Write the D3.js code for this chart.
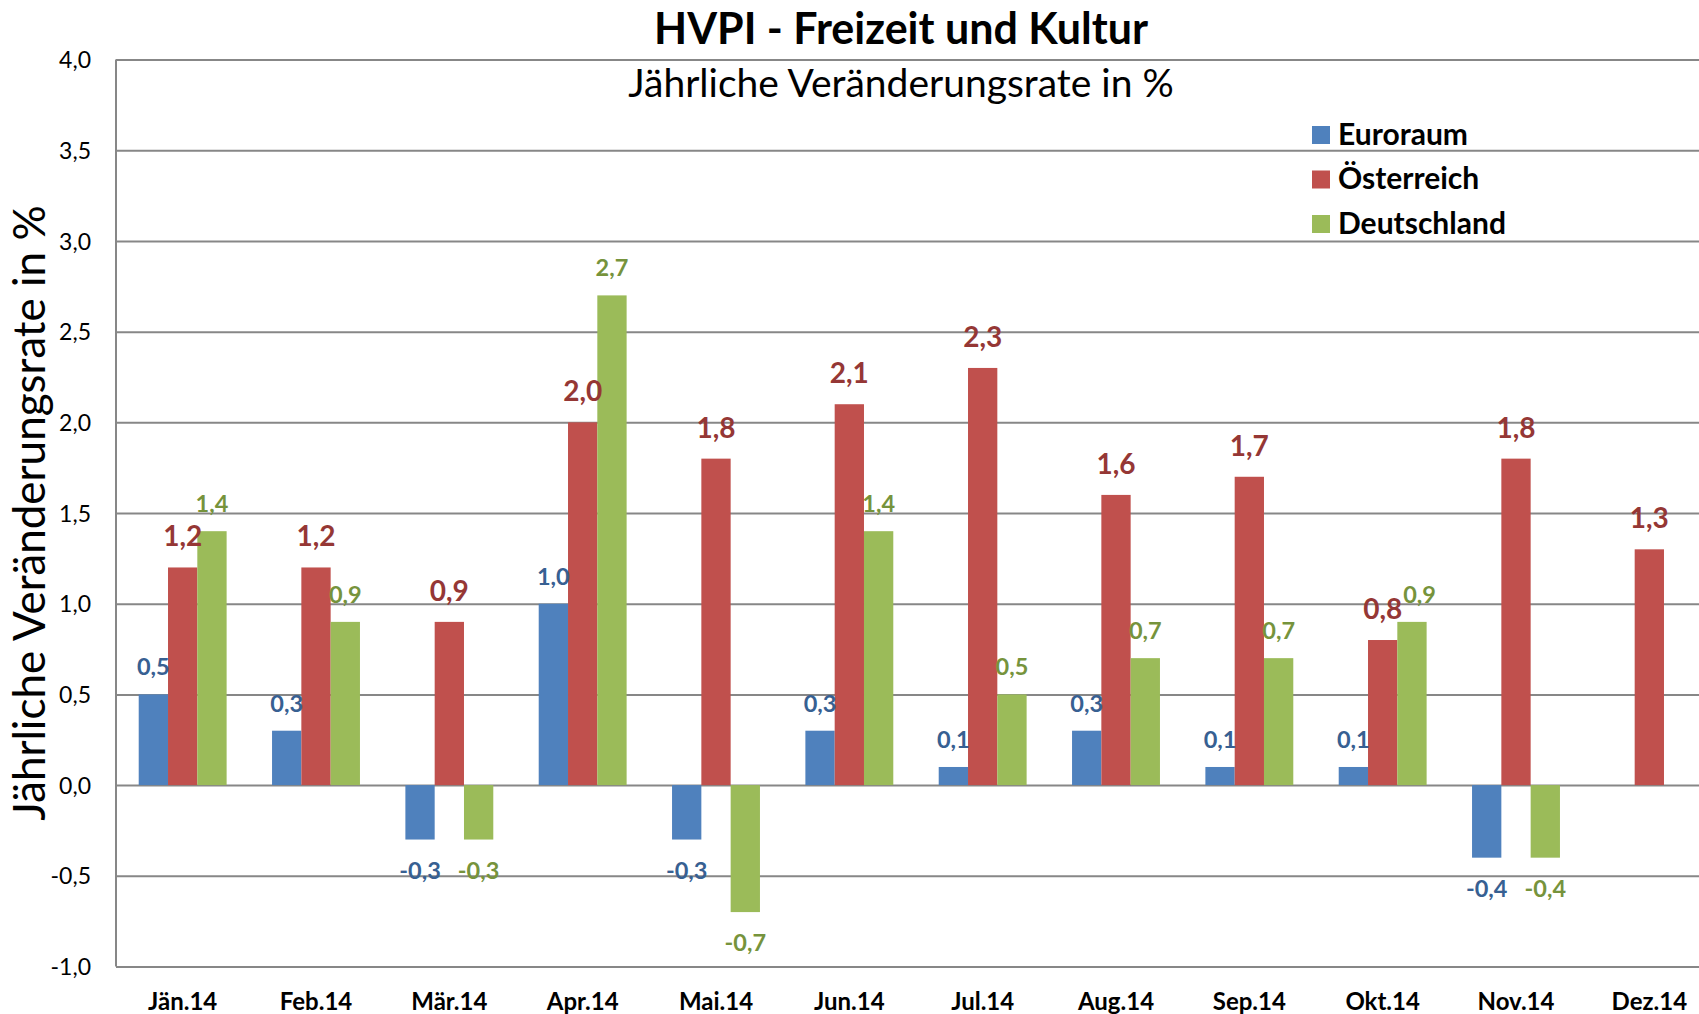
<!DOCTYPE html>
<html>
<head>
<meta charset="utf-8">
<script src="https://cdn.jsdelivr.net/npm/d3@7"></script>
<style>
body { margin: 0; background: #fff; }
text { font-family: Lato, "Open Sans", sans-serif; }
</style>
</head>
<body>
<svg></svg>
<script>
var months = ["Jän.14", "Feb.14", "Mär.14", "Apr.14", "Mai.14", "Jun.14", "Jul.14", "Aug.14", "Sep.14", "Okt.14", "Nov.14", "Dez.14"];
var seriesNames = ["Euroraum", "Österreich", "Deutschland"];
var euroraum = [0.5, 0.3, -0.3, 1.0, -0.3, 0.3, 0.1, 0.3, 0.1, 0.1, -0.4, null];
var oesterreich = [1.2, 1.2, 0.9, 2.0, 1.8, 2.1, 2.3, 1.6, 1.7, 0.8, 1.8, 1.3];
var deutschland = [1.4, 0.9, -0.3, 2.7, -0.7, 1.4, 0.5, 0.7, 0.7, 0.9, -0.4, null];
var yTicks = [-1.0, -0.5, 0.0, 0.5, 1.0, 1.5, 2.0, 2.5, 3.0, 3.5, 4.0];

var screen = {width: 1699, height: 1014};
var barColors = ["#4F81BD", "#C0504D", "#9BBB59"];
var labelColors = ["#376092", "#953735", "#76933C"];
var labelSizes = [23.5, 28, 23.5];

var setup = function()
{
    var svg = d3.select("svg")
    .attr("width", screen.width)
    .attr("height", screen.height);

    // chart is cut off on the right, so the band range runs past the page
    var x0 = d3.scaleBand().domain(months).range([116, 1716]);
    var x1 = d3.scaleBand().domain(seriesNames).range([0, x0.bandwidth()]).paddingOuter(0.775);
    var y = d3.scaleLinear().domain([-1, 4]).range([966.5, 59.6]);

    var yAxis = d3.axisLeft(y).tickValues(yTicks)
    .tickSize(-(1716 - 116))
    .tickFormat(function(d){ return d3.format(".1f")(d).replace(".", ",").replace("−", "-"); });

    var axis = svg.append("g")
    .attr("id", "yAxis")
    .attr("transform", "translate(116,0)")
    .call(yAxis);
    axis.select(".domain").remove();
    axis.selectAll("line").attr("stroke", "#878787").attr("stroke-width", 2);
    axis.selectAll("text")
    .attr("x", -25)
    .attr("dy", "0.35em")
    .style("font-size", "23px")
    .attr("fill", "#000");

    svg.append("line")
    .attr("x1", 116).attr("x2", 116)
    .attr("y1", y(4)).attr("y2", y(-1))
    .attr("stroke", "#878787").attr("stroke-width", 2);

    svg.append("g").attr("id", "xLabels")
    .selectAll("text")
    .data(months)
    .enter()
    .append("text")
    .attr("x", function(d){ return x0(d) + x0.bandwidth() / 2; })
    .attr("y", 1010)
    .attr("text-anchor", "middle")
    .style("font-size", "24px")
    .style("font-weight", "bold")
    .text(function(d){ return d; });

    drawBars(svg, x0, x1, y);
    drawTexts(svg);
}

var drawBars = function(svg, x0, x1, y)
{
    var all = [euroraum, oesterreich, deutschland];
    var rows = [];
    all.forEach(function(vals, s){
        vals.forEach(function(v, i){
            if (v !== null) rows.push({month: months[i], name: seriesNames[s], s: s, v: v});
        });
    });

    svg.append("g").attr("id", "bars")
    .selectAll("rect")
    .data(rows)
    .enter()
    .append("rect")
    .attr("x", function(d){ return x0(d.month) + x1(d.name); })
    .attr("y", function(d){ return y(Math.max(0, d.v)); })
    .attr("width", x1.bandwidth())
    .attr("height", function(d){ return Math.abs(y(d.v) - y(0)); })
    .attr("fill", function(d){ return barColors[d.s]; });

    var labels = svg.append("g").attr("id", "barLabels")
    .selectAll("text")
    .data(rows)
    .enter()
    .append("text")
    .attr("x", function(d){ return x0(d.month) + x1(d.name) + x1.bandwidth() / 2; })
    .attr("y", function(d){
        if (d.v < 0) return y(d.v) + 39;
        return y(d.v) - (d.s == 1 ? 21 : 19);
    })
    .attr("text-anchor", "middle")
    .attr("fill", function(d){ return labelColors[d.s]; })
    .style("font-size", function(d){ return labelSizes[d.s] + "px"; })
    .style("font-weight", "bold")
    .text(function(d){ return d3.format(".1f")(d.v).replace(".", ",").replace("−", "-"); });

    // push a label right if it runs into the one before it in the same month
    var nodes = labels.nodes();
    nodes.forEach(function(node){
        var d = d3.select(node).datum();
        var b = node.getBBox();
        nodes.forEach(function(other){
            var o = d3.select(other).datum();
            if (o.month != d.month || o.s != d.s - 1) return;
            var ob = other.getBBox();
            var vOverlap = b.y < ob.y + ob.height - 6 && ob.y < b.y + b.height - 6;
            if (vOverlap && b.x < ob.x + ob.width)
                d3.select(node).attr("x", +d3.select(node).attr("x") + (ob.x + ob.width - b.x) + 1);
        });
    });
}

var drawTexts = function(svg)
{
    svg.append("text")
    .attr("x", 901).attr("y", 44)
    .attr("text-anchor", "middle")
    .style("font-size", "43px")
    .style("font-weight", "bold")
    .text("HVPI - Freizeit und Kultur");

    svg.append("text")
    .attr("x", 901).attr("y", 97)
    .attr("text-anchor", "middle")
    .style("font-size", "39px")
    .text("Jährliche Veränderungsrate in %");

    svg.append("text")
    .attr("transform", "translate(45,513) rotate(-90)")
    .attr("text-anchor", "middle")
    .style("font-size", "44px")
    .text("Jährliche Veränderungsrate in %");

    var legend = svg.append("g").attr("id", "legend")
    .selectAll("g")
    .data(seriesNames)
    .enter()
    .append("g")
    .attr("transform", function(d, i){ return "translate(1312," + (126 + i * 44.5) + ")"; });

    legend.append("rect")
    .attr("width", 18).attr("height", 18)
    .attr("fill", function(d, i){ return barColors[i]; });

    legend.append("text")
    .attr("x", 26).attr("y", 18.5)
    .style("font-size", "30px")
    .style("font-weight", "bold")
    .text(function(d){ return d; });
}

setup();
</script>
</body>
</html>
